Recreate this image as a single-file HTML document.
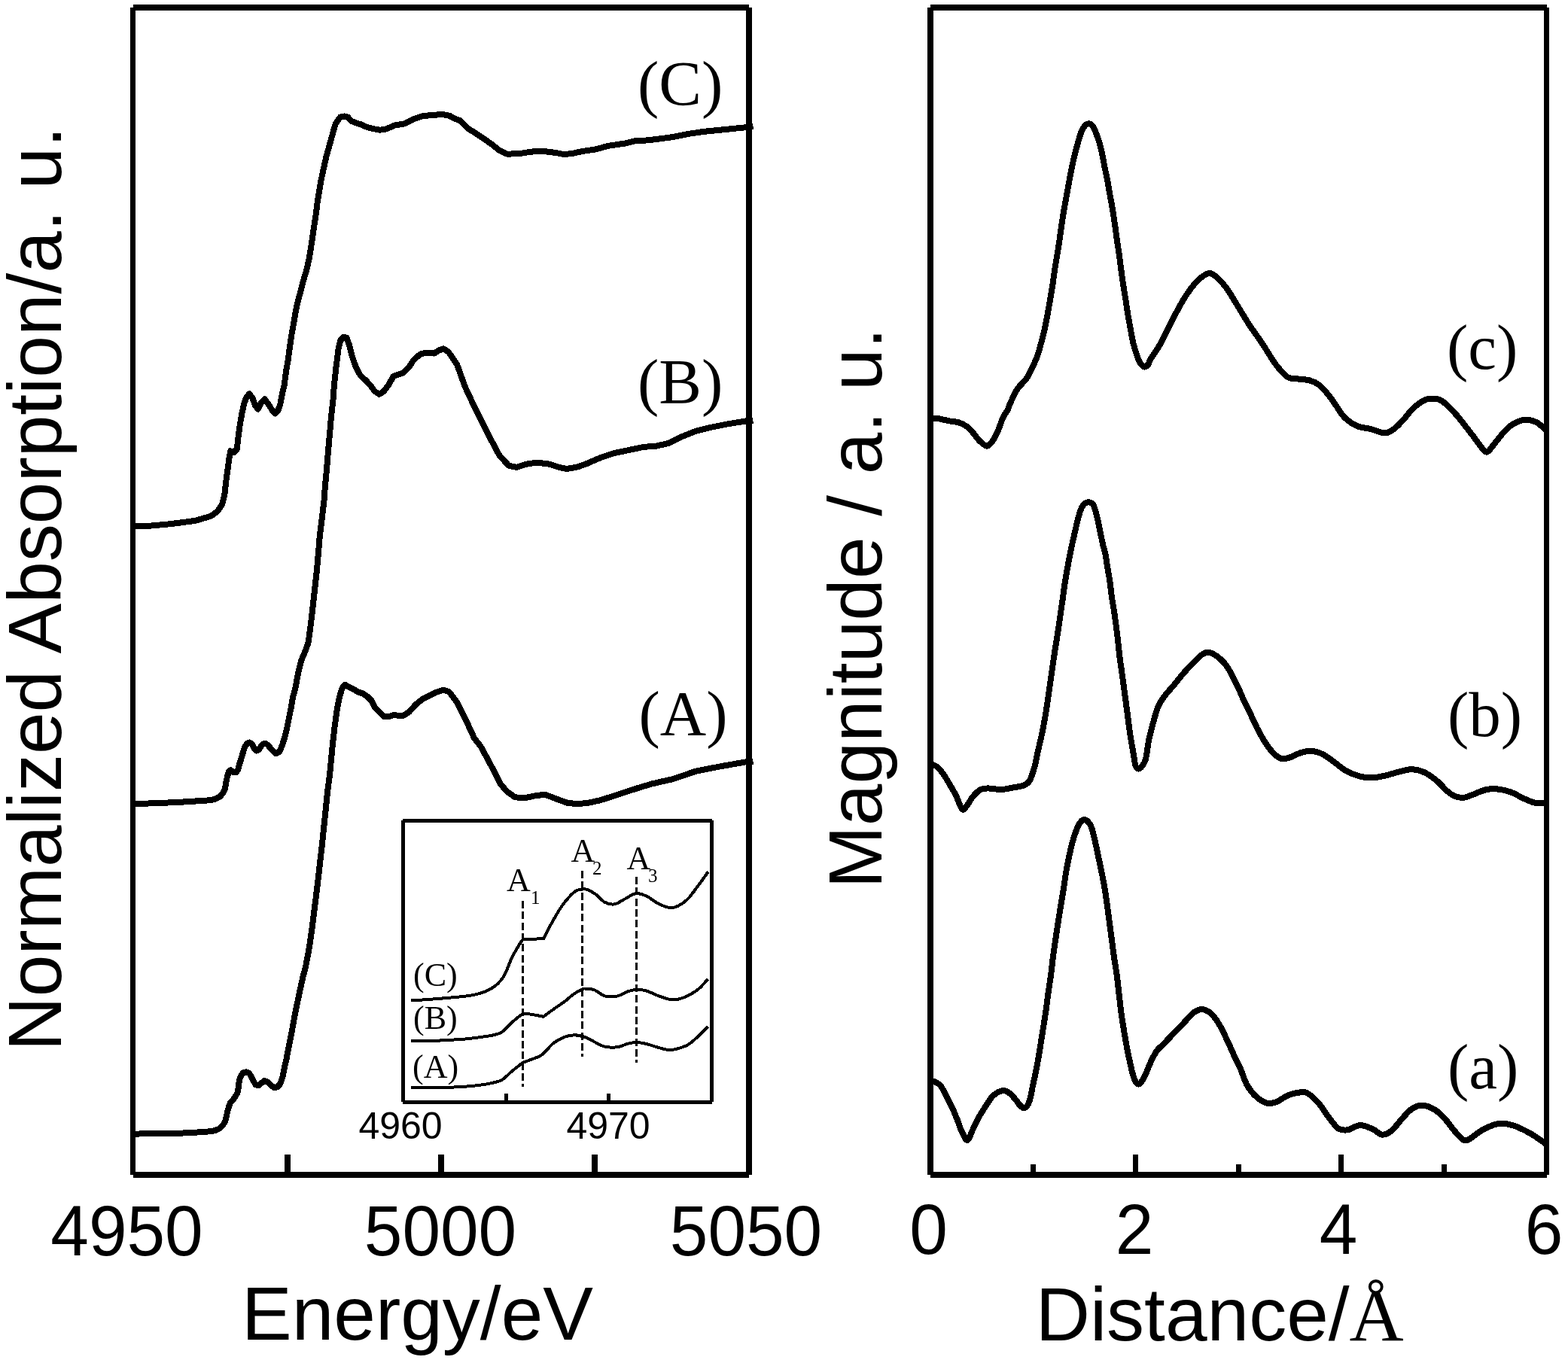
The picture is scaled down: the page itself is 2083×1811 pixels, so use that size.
<!DOCTYPE html>
<html><head><meta charset="utf-8"><title>XANES and EXAFS spectra</title>
<style>
html,body{margin:0;padding:0;background:#fff;}
body{width:2083px;height:1811px;overflow:hidden;}
svg{display:block;}
.sans{font-family:"Liberation Sans",Arial,sans-serif;}
.serif{font-family:"Liberation Serif","Times New Roman",serif;}
</style></head><body>
<svg xmlns="http://www.w3.org/2000/svg" width="2083" height="1811" viewBox="0 0 2083 1811" shape-rendering="crispEdges">
<rect x="0" y="0" width="2083" height="1811" fill="#fff"/>

<g id="left-panel">
<path d="M176.5,10 H995 M176.5,1561 H995" fill="none" stroke="#000" stroke-width="8"/><path d="M176.5,10 V1561" fill="none" stroke="#000" stroke-width="7"/><path d="M995,10 V1561" fill="none" stroke="#000" stroke-width="8"/>
<line x1="382" y1="1534" x2="382" y2="1558" stroke="#000" stroke-width="7.5"/>
<line x1="586" y1="1534" x2="586" y2="1558" stroke="#000" stroke-width="7.5"/>
<line x1="790" y1="1534" x2="790" y2="1558" stroke="#000" stroke-width="7.5"/>
<path d="M176.3,699.1 L199.2,698.7 L222.2,696.6 L238.9,694.6 L259.7,691.8 L270.1,688.7 L280.6,685.6 L288.9,679.3 L295.2,669.9 L298.3,657.4 L300.4,638.6 L303.0,620.0 L304.6,607.7 L306.2,599.3 L310.7,601.3 L315.2,596.1 L315.6,588.4 L317.2,575.6 L319.0,562.8 L321.3,549.9 L324.0,537.1 L327.5,527.5 L331.2,523.3 L335.5,529.0 L339.0,539.0 L342.8,543.5 L346.6,535.8 L351.8,530.4 L357.5,538.4 L361.5,545.0 L365.6,549.3 L369.5,545.0 L372.3,537.1 L374.7,524.3 L377.7,511.4 L380.0,493.8 L382.7,478.1 L384.8,462.5 L387.0,446.9 L389.8,431.3 L392.5,415.6 L395.5,401.0 L398.8,389.4 L402.7,373.8 L407.5,358.1 L410.9,342.5 L413.4,326.9 L415.7,311.3 L418.0,295.6 L420.0,283.0 L421.5,270.0 L424.0,254.4 L426.7,238.8 L430.1,223.1 L433.6,207.5 L438.0,191.9 L442.3,176.3 L445.7,164.5 L452.0,155.5 L457.4,154.5 L462.0,155.5 L466.4,160.6 L472.7,163.4 L479.7,165.3 L485.9,168.4 L496.1,171.2 L504.7,172.7 L512.2,171.7 L524.7,166.5 L537.2,164.4 L549.7,158.2 L562.2,154.0 L574.8,153.0 L587.3,151.9 L597.7,154.0 L603.0,157.1 L611.3,160.3 L621.7,170.7 L630.1,175.9 L642.6,184.2 L653.0,191.5 L663.5,199.9 L673.9,204.7 L690.6,204.1 L705.2,201.6 L721.9,200.9 L738.6,203.0 L749.0,205.1 L759.4,204.1 L774.0,200.9 L788.6,198.9 L809.5,193.6 L830.4,190.5 L842.9,187.4 L861.7,186.3 L893.0,182.2 L913.8,178.0 L934.7,174.9 L955.5,172.8 L976.4,170.7 L991.0,169.2 L1000.5,168.0" fill="none" stroke="#000" stroke-width="8.0" stroke-linejoin="round" stroke-linecap="butt"/>
<path d="M176.3,1068.0 L201.3,1067.4 L228.4,1066.3 L249.3,1065.2 L263.9,1064.2 L276.4,1063.4 L280.0,1063.1 L286.1,1061.7 L292.3,1058.3 L296.6,1053.4 L299.0,1047.9 L300.3,1039.9 L302.1,1031.3 L304.2,1024.5 L306.4,1023.3 L309.5,1025.8 L313.8,1026.4 L316.2,1022.7 L318.1,1015.3 L320.5,1008.0 L323.0,999.4 L325.4,992.0 L328.5,987.7 L331.6,986.5 L334.6,988.3 L337.7,994.5 L340.8,997.5 L343.8,996.3 L346.9,991.4 L350.0,988.3 L352.4,987.7 L355.5,989.6 L358.6,993.2 L362.3,997.5 L366.3,1001.1 L369.5,1000.0 L372.0,997.5 L374.8,990.4 L378.0,980.4 L381.3,967.0 L384.0,953.6 L386.7,940.2 L389.0,926.8 L392.7,912.8 L394.8,901.1 L397.2,889.4 L400.2,877.7 L405.2,865.9 L409.5,854.2 L411.1,842.5 L413.2,826.9 L415.0,811.3 L416.7,795.6 L418.2,782.2 L420.8,758.8 L422.9,735.3 L424.8,711.9 L427.8,688.4 L430.5,665.0 L431.8,647.2 L434.0,623.8 L435.9,600.3 L438.0,576.9 L440.0,553.4 L442.6,530.0 L443.9,512.0 L446.4,488.6 L448.0,476.0 L449.7,462.5 L452.5,452.0 L456.6,447.7 L460.4,448.6 L464.3,459.3 L468.2,474.9 L473.1,488.6 L479.0,499.3 L485.8,505.2 L492.0,512.0 L497.6,519.7 L503.8,523.9 L510.1,519.7 L516.3,511.4 L522.6,499.9 L528.9,497.8 L535.1,495.7 L543.5,487.4 L549.7,478.0 L558.1,470.7 L566.4,468.6 L576.8,469.6 L583.1,465.5 L589.4,463.4 L596.0,468.0 L607.1,484.2 L617.6,513.5 L632.2,544.8 L646.8,574.0 L663.5,605.3 L676.0,618.8 L686.4,620.9 L698.9,616.7 L713.5,614.6 L730.2,616.7 L742.7,620.9 L753.2,623.0 L767.8,620.3 L780.3,615.7 L797.0,608.4 L815.8,602.1 L840.8,596.9 L855.4,593.8 L872.1,592.7 L888.8,588.6 L905.5,580.2 L924.2,572.9 L945.1,567.7 L966.0,563.5 L991.0,559.4 L1000.5,559.3" fill="none" stroke="#000" stroke-width="8.0" stroke-linejoin="round" stroke-linecap="butt"/>
<path d="M177.6,1506.6 L219.2,1506.1 L251.4,1505.3 L266.5,1504.2 L280.0,1503.2 L286.1,1501.9 L291.0,1499.8 L296.0,1495.2 L299.0,1490.3 L300.6,1484.1 L302.1,1477.4 L303.9,1470.6 L305.8,1465.7 L309.4,1461.4 L312.5,1457.1 L315.3,1452.2 L316.5,1446.7 L317.1,1440.6 L318.3,1433.8 L320.5,1428.9 L322.9,1425.2 L327.2,1424.3 L330.9,1425.9 L333.4,1429.5 L336.4,1435.7 L339.5,1441.2 L343.2,1442.4 L346.9,1439.4 L351.2,1436.0 L355.5,1437.5 L359.8,1441.8 L364.7,1445.5 L368.3,1444.3 L371.4,1441.2 L373.9,1435.7 L375.7,1429.5 L378.1,1417.2 L380.6,1406.8 L383.0,1393.8 L387.7,1370.3 L392.0,1346.9 L396.9,1323.4 L402.0,1300.0 L406.5,1282.2 L410.9,1258.8 L414.3,1235.3 L417.2,1211.9 L420.2,1188.4 L423.0,1165.0 L425.0,1147.2 L427.7,1123.8 L430.1,1100.3 L432.6,1076.9 L434.9,1053.4 L438.0,1030.0 L439.7,1012.2 L441.9,988.8 L444.6,965.3 L447.9,941.9 L451.0,926.3 L454.4,914.5 L458.3,909.8 L463.8,913.0 L470.0,916.1 L476.3,919.6 L482.5,921.6 L488.0,925.5 L493.4,930.9 L497.3,938.8 L501.7,943.9 L510.1,952.2 L516.3,952.2 L522.6,950.1 L535.1,951.2 L543.5,945.9 L551.8,936.6 L562.2,928.2 L568.5,925.1 L578.9,919.9 L589.4,916.7 L596.5,919.2 L607.1,933.0 L619.6,958.1 L630.1,981.0 L638.4,991.4 L650.9,1014.4 L665.5,1042.6 L673.9,1052.0 L684.3,1059.3 L696.8,1060.3 L711.4,1057.2 L724.0,1055.7 L738.6,1061.3 L753.2,1066.6 L765.7,1068.2 L780.3,1067.0 L797.0,1063.4 L819.9,1056.1 L845.0,1047.8 L865.8,1041.5 L893.0,1035.3 L924.2,1024.8 L955.5,1018.6 L991.0,1012.3 L1000.5,1011.8" fill="none" stroke="#000" stroke-width="8.0" stroke-linejoin="round" stroke-linecap="butt"/>
</g>
<g id="inset">
<rect x="535.3" y="1090.4" width="410.3" height="373.9" fill="#fff"/>
<path d="M535.3,1090.4 H945.6 M535.3,1464.3 H945.6 M535.3,1090.4 V1464.3 M945.6,1090.4 V1464.3" fill="none" stroke="#000" stroke-width="5"/>
<line x1="672.3" y1="1453" x2="672.3" y2="1463" stroke="#000" stroke-width="4.6"/>
<line x1="808.4" y1="1453" x2="808.4" y2="1463" stroke="#000" stroke-width="4.6"/>
<line x1="694.5" y1="1197" x2="694.5" y2="1444" stroke="#000" stroke-width="3.3" stroke-dasharray="10 4.3"/>
<line x1="773.5" y1="1157" x2="773.5" y2="1404" stroke="#000" stroke-width="3.3" stroke-dasharray="10 4.3"/>
<line x1="845.5" y1="1165" x2="845.5" y2="1412" stroke="#000" stroke-width="3.3" stroke-dasharray="10 4.3"/>
<path d="M546.0,1329.5 C553.3,1329.0 576.0,1327.6 590.0,1326.3 C604.0,1325.0 619.5,1324.0 630.0,1321.8 C640.5,1319.6 646.8,1317.0 653.2,1313.1 C659.6,1309.2 664.1,1305.1 668.6,1298.3 C673.1,1291.5 676.4,1279.7 680.2,1272.0 C684.1,1264.3 689.1,1256.2 691.7,1252.1 C694.3,1248.0 695.0,1248.3 695.6,1247.6 C696.2,1247.7 694.9,1248.3 699.4,1248.2 C703.9,1248.1 718.6,1247.2 722.5,1247.0 C723.4,1245.2 725.6,1240.3 727.7,1236.1 C729.9,1231.9 732.0,1227.7 735.4,1221.9 C738.8,1216.1 743.5,1207.6 748.2,1201.4 C752.9,1195.2 759.3,1188.0 763.6,1184.7 C767.9,1181.4 771.1,1181.9 773.9,1181.5 C776.7,1181.1 777.3,1180.9 780.3,1182.1 C783.3,1183.3 788.0,1185.8 791.9,1188.6 C795.8,1191.4 799.3,1196.7 803.4,1198.8 C807.5,1200.9 812.0,1202.0 816.3,1201.4 C820.6,1200.8 824.4,1197.3 829.1,1195.0 C833.8,1192.7 839.6,1188.0 844.5,1187.3 C849.4,1186.5 854.1,1188.6 858.6,1190.5 C863.1,1192.4 867.0,1196.3 871.5,1198.8 C876.0,1201.2 881.3,1204.1 885.6,1205.2 C889.9,1206.3 892.6,1206.8 897.1,1205.2 C901.6,1203.6 907.8,1199.9 912.5,1195.6 C917.2,1191.3 920.7,1185.8 925.4,1179.6 C930.1,1173.4 938.2,1161.9 940.8,1158.4" fill="none" stroke="#000" stroke-width="4.0" stroke-linejoin="round"/>
<path d="M546.2,1383.5 C550.0,1383.5 560.3,1383.5 569.1,1383.2 C577.9,1382.9 590.8,1382.2 599.2,1381.7 C607.6,1381.2 612.2,1381.1 619.3,1380.4 C626.4,1379.7 635.6,1378.4 641.6,1377.6 C647.6,1376.8 650.7,1376.5 655.0,1375.4 C659.3,1374.3 662.8,1374.0 667.3,1370.9 C671.8,1367.8 677.5,1360.8 681.8,1357.0 C686.1,1353.2 690.5,1349.7 692.9,1348.0 C695.3,1346.3 695.7,1347.1 696.3,1346.9 C697.6,1347.0 699.8,1346.8 704.1,1347.5 C708.4,1348.2 719.0,1350.2 722.0,1350.8 C724.4,1349.0 731.6,1343.6 736.4,1340.2 C741.2,1336.8 746.3,1333.5 750.6,1330.3 C754.9,1327.0 758.6,1323.3 762.3,1320.7 C766.0,1318.1 770.4,1316.1 772.9,1314.9 C775.4,1313.7 774.3,1313.4 777.1,1313.5 C779.9,1313.6 785.4,1313.8 789.8,1315.4 C794.2,1317.1 798.6,1322.0 803.6,1323.4 C808.6,1324.8 814.5,1324.7 819.5,1323.7 C824.5,1322.7 829.0,1319.1 833.3,1317.6 C837.5,1316.1 840.8,1315.1 845.0,1314.9 C849.2,1314.7 854.1,1315.3 858.7,1316.5 C863.3,1317.7 867.5,1320.5 872.5,1322.3 C877.5,1324.1 883.6,1326.7 888.4,1327.6 C893.2,1328.5 896.9,1328.4 901.1,1327.6 C905.4,1326.8 909.5,1325.1 913.9,1322.9 C918.3,1320.7 923.2,1318.0 927.6,1314.4 C932.0,1310.8 938.3,1303.3 940.4,1301.1" fill="none" stroke="#000" stroke-width="4.0" stroke-linejoin="round"/>
<path d="M546.2,1445.3 C552.8,1445.3 574.0,1445.3 585.8,1445.1 C597.6,1444.8 607.7,1444.4 617.0,1443.8 C626.3,1443.2 635.1,1442.1 641.6,1441.2 C648.1,1440.3 651.8,1439.5 656.1,1438.4 C660.4,1437.3 663.2,1437.1 667.3,1434.5 C671.4,1431.9 676.2,1426.5 680.7,1422.8 C685.2,1419.1 691.8,1414.0 694.0,1412.2 C695.7,1411.5 699.8,1410.1 704.1,1408.3 C708.4,1406.5 714.5,1405.3 719.7,1401.6 C724.9,1397.9 730.3,1389.9 735.3,1386.0 C740.3,1382.1 744.8,1379.8 749.5,1378.0 C754.2,1376.2 758.7,1375.3 763.3,1375.3 C767.9,1375.3 772.7,1376.5 777.1,1378.0 C781.5,1379.5 785.4,1382.3 789.8,1384.4 C794.2,1386.5 798.5,1389.6 803.6,1390.7 C808.7,1391.8 815.7,1391.8 820.6,1391.2 C825.5,1390.6 829.2,1388.0 833.3,1387.0 C837.4,1386.0 840.8,1384.9 845.0,1384.9 C849.2,1384.9 854.1,1386.0 858.7,1387.0 C863.3,1388.0 867.7,1389.9 872.5,1391.2 C877.3,1392.5 883.1,1394.5 887.4,1395.0 C891.6,1395.5 893.6,1395.1 898.0,1393.9 C902.4,1392.8 909.0,1390.9 913.9,1388.1 C918.8,1385.3 923.2,1380.9 927.6,1376.9 C932.0,1372.9 938.3,1366.3 940.4,1364.2" fill="none" stroke="#000" stroke-width="4.0" stroke-linejoin="round"/>
<g class="serif" font-size="44" fill="#000">
<text x="549" y="1310">(C)</text>
<text x="549" y="1367">(B)</text>
<text x="548" y="1432">(A)</text>
<text x="673" y="1184">A</text><text x="705" y="1201" font-size="25">1</text>
<text x="758.5" y="1145">A</text><text x="787" y="1162" font-size="25">2</text>
<text x="832.5" y="1155">A</text><text x="861" y="1172" font-size="25">3</text>
</g>
<g class="sans" font-size="50" fill="#000">
<text x="532" y="1513" text-anchor="middle">4960</text>
<text x="808" y="1513" text-anchor="middle">4970</text>
</g>
</g>
<g id="right-panel">
<path d="M1236,10 H2054.5 M1236,1561 H2054.5" fill="none" stroke="#000" stroke-width="8"/><path d="M1236,10 V1561" fill="none" stroke="#000" stroke-width="8"/><path d="M2054.5,10 V1561" fill="none" stroke="#000" stroke-width="7"/>
<line x1="1372.4" y1="1547" x2="1372.4" y2="1558" stroke="#000" stroke-width="7"/>
<line x1="1508.8" y1="1534" x2="1508.8" y2="1558" stroke="#000" stroke-width="7"/>
<line x1="1645.2" y1="1547" x2="1645.2" y2="1558" stroke="#000" stroke-width="7"/>
<line x1="1781.6" y1="1534" x2="1781.6" y2="1558" stroke="#000" stroke-width="7"/>
<line x1="1918.0" y1="1547" x2="1918.0" y2="1558" stroke="#000" stroke-width="7"/>
<path d="M1236.3,555.2 C1238.0,555.4 1242.5,555.5 1246.7,556.2 C1250.9,556.9 1256.8,558.5 1261.3,559.4 C1265.8,560.3 1270.0,560.2 1273.8,561.4 C1277.6,562.6 1281.1,564.4 1284.2,566.7 C1287.3,569.0 1289.8,571.9 1292.6,575.0 C1295.4,578.1 1297.8,582.4 1300.9,585.4 C1304.0,588.4 1308.3,592.9 1311.4,592.7 C1314.5,592.5 1317.3,587.9 1319.7,584.4 C1322.1,580.9 1323.9,576.8 1326.0,571.9 C1328.1,567.0 1330.1,559.7 1332.2,555.2 C1334.3,550.7 1336.8,548.3 1338.5,544.8 C1340.2,541.3 1340.6,538.8 1342.7,534.3 C1344.8,529.8 1348.9,521.2 1351.0,517.6 C1353.1,514.0 1353.1,514.8 1355.2,512.4 C1357.3,510.0 1361.1,506.4 1363.5,503.0 C1365.9,499.6 1367.1,497.1 1369.5,492.2 C1371.9,487.3 1375.5,479.8 1377.8,473.7 C1380.1,467.6 1381.5,461.4 1383.2,455.3 C1384.9,449.2 1386.4,443.0 1387.8,436.9 C1389.2,430.8 1390.3,424.8 1391.5,418.4 C1392.7,412.0 1393.8,405.2 1395.0,398.5 C1396.2,391.8 1397.4,384.8 1398.4,378.2 C1399.4,371.6 1400.1,365.3 1401.1,358.8 C1402.1,352.3 1403.2,346.0 1404.3,339.4 C1405.4,332.8 1406.5,325.9 1407.5,319.0 C1408.5,312.1 1409.4,304.9 1410.4,298.2 C1411.4,291.5 1412.4,285.3 1413.5,278.8 C1414.6,272.3 1415.8,266.0 1417.0,259.4 C1418.2,252.8 1419.5,245.2 1420.7,239.0 C1421.9,232.8 1422.9,227.5 1424.0,222.1 C1425.1,216.7 1426.2,211.8 1427.5,206.6 C1428.8,201.4 1430.1,196.3 1431.6,191.1 C1433.1,185.9 1434.8,179.5 1436.4,175.5 C1438.0,171.5 1439.4,169.2 1441.0,167.3 C1442.6,165.4 1444.3,164.4 1446.0,164.3 C1447.7,164.2 1449.4,164.9 1451.0,166.8 C1452.6,168.7 1453.8,171.4 1455.5,175.5 C1457.2,179.6 1459.4,185.9 1460.9,191.1 C1462.4,196.3 1463.5,201.4 1464.6,206.6 C1465.7,211.8 1466.4,216.7 1467.5,222.1 C1468.6,227.5 1469.8,232.8 1471.0,239.0 C1472.2,245.2 1473.4,252.8 1474.6,259.4 C1475.8,266.0 1477.0,272.3 1478.1,278.8 C1479.2,285.3 1480.0,291.6 1481.0,298.2 C1482.0,304.8 1482.8,311.6 1483.8,318.5 C1484.8,325.4 1486.0,332.7 1486.9,339.4 C1487.8,346.1 1488.5,352.3 1489.4,358.8 C1490.3,365.3 1491.1,371.6 1492.1,378.2 C1493.1,384.8 1494.4,391.8 1495.4,398.5 C1496.5,405.2 1497.3,412.0 1498.4,418.4 C1499.5,424.8 1500.7,430.8 1501.8,436.9 C1502.9,443.0 1503.8,449.2 1505.3,455.3 C1506.8,461.4 1509.1,469.1 1510.8,473.7 C1512.5,478.3 1513.6,480.7 1515.2,483.0 C1516.8,485.3 1518.8,487.4 1520.5,487.6 C1522.2,487.8 1524.2,485.6 1525.5,484.0 C1526.8,482.4 1525.2,482.7 1528.0,478.0 C1530.8,473.3 1537.0,465.0 1542.0,456.0 C1547.0,447.0 1552.7,434.2 1558.0,424.0 C1563.3,413.8 1569.0,403.0 1574.0,395.0 C1579.0,387.0 1583.4,381.1 1588.0,376.0 C1592.6,370.9 1597.8,366.8 1601.4,364.7 C1605.0,362.6 1606.6,362.5 1609.7,363.7 C1612.8,364.9 1616.7,368.5 1620.2,372.0 C1623.7,375.5 1627.1,379.6 1630.6,384.5 C1634.1,389.4 1637.7,395.8 1641.0,401.2 C1644.3,406.6 1647.1,411.4 1650.4,416.8 C1653.7,422.2 1656.7,427.2 1660.9,433.5 C1665.1,439.8 1670.6,447.1 1675.5,454.4 C1680.4,461.7 1686.3,471.6 1690.1,477.3 C1693.9,483.0 1694.9,484.8 1698.4,488.8 C1701.9,492.8 1706.7,498.9 1710.9,501.3 C1715.1,503.7 1718.6,502.7 1723.5,503.4 C1728.4,504.1 1735.2,504.1 1740.1,505.5 C1745.0,506.9 1748.5,508.5 1752.7,511.8 C1756.9,515.1 1761.4,520.6 1765.2,525.3 C1769.0,530.0 1772.1,535.0 1775.6,539.9 C1779.1,544.8 1781.5,550.1 1786.0,554.5 C1790.5,558.9 1796.8,563.4 1802.7,566.0 C1808.6,568.6 1815.2,568.6 1821.5,570.2 C1827.8,571.8 1835.1,575.6 1840.3,575.4 C1845.5,575.2 1848.6,572.2 1852.8,569.1 C1857.0,566.0 1861.5,560.8 1865.3,556.6 C1869.1,552.4 1871.6,548.1 1875.8,544.1 C1880.0,540.1 1885.9,535.0 1890.4,532.6 C1894.9,530.2 1898.7,529.5 1902.9,529.5 C1907.1,529.5 1910.5,529.5 1915.4,532.6 C1920.3,535.7 1927.6,543.6 1932.1,548.3 C1936.6,553.0 1938.3,555.6 1942.5,560.8 C1946.7,566.0 1952.6,573.7 1957.1,579.6 C1961.6,585.5 1966.5,592.8 1969.6,596.3 C1972.7,599.8 1973.5,601.3 1975.9,600.4 C1978.3,599.5 1980.7,595.2 1984.2,591.0 C1987.7,586.8 1992.6,579.9 1996.8,575.4 C2001.0,570.9 2004.4,566.8 2009.3,563.9 C2014.2,561.0 2020.8,558.2 2026.0,557.7 C2031.2,557.2 2036.6,559.1 2040.6,560.8 C2044.6,562.5 2047.7,566.2 2050.0,568.1 C2052.3,570.0 2053.8,571.4 2054.5,572.0" fill="none" stroke="#000" stroke-width="8.0" stroke-linejoin="round"/>
<path d="M1237.3,1015.6 C1238.5,1016.1 1242.0,1016.6 1244.6,1018.7 C1247.2,1020.8 1250.1,1024.3 1252.9,1028.1 C1255.7,1031.9 1258.5,1037.0 1261.3,1041.7 C1264.1,1046.4 1266.8,1050.8 1269.6,1056.3 C1272.4,1061.8 1275.6,1072.6 1278.0,1075.0 C1280.4,1077.4 1281.8,1073.7 1284.2,1070.9 C1286.6,1068.1 1289.5,1062.0 1292.6,1058.3 C1295.7,1054.6 1299.5,1050.8 1303.0,1049.0 C1306.5,1047.2 1309.0,1047.5 1313.5,1047.5 C1318.0,1047.5 1324.5,1049.2 1330.1,1049.0 C1335.6,1048.8 1341.9,1047.2 1346.8,1046.3 C1351.7,1045.4 1355.9,1045.2 1359.4,1043.7 C1362.9,1042.2 1365.1,1041.9 1367.7,1037.5 C1370.3,1033.1 1373.0,1023.6 1374.8,1017.3 C1376.6,1011.0 1376.9,1007.1 1378.5,999.8 C1380.1,992.5 1382.7,982.3 1384.5,973.6 C1386.3,964.9 1387.8,956.1 1389.3,947.4 C1390.8,938.7 1391.9,929.9 1393.2,921.2 C1394.5,912.5 1395.8,903.0 1396.9,895.0 C1398.1,887.0 1399.1,880.1 1400.1,873.2 C1401.1,866.3 1402.1,860.3 1403.1,853.8 C1404.1,847.3 1405.2,841.0 1406.2,834.4 C1407.2,827.8 1408.1,820.9 1409.1,814.0 C1410.1,807.1 1411.1,799.9 1412.1,793.2 C1413.0,786.5 1413.8,780.3 1414.8,773.8 C1415.8,767.3 1416.9,760.9 1418.1,754.4 C1419.3,747.9 1420.8,739.9 1421.8,735.0 C1422.8,730.1 1423.0,729.2 1423.9,724.9 C1424.8,720.6 1426.2,714.5 1427.4,709.3 C1428.6,704.1 1429.7,699.0 1431.0,693.8 C1432.3,688.6 1433.8,682.3 1435.3,678.3 C1436.8,674.3 1438.2,671.8 1440.0,670.0 C1441.8,668.2 1444.0,667.3 1446.0,667.3 C1448.0,667.3 1450.5,668.2 1452.0,670.0 C1453.5,671.8 1453.9,674.3 1455.1,678.3 C1456.3,682.3 1457.8,688.6 1459.0,693.8 C1460.2,699.0 1461.0,704.1 1462.1,709.3 C1463.2,714.5 1464.4,720.6 1465.4,724.9 C1466.4,729.2 1467.2,730.1 1468.2,735.0 C1469.2,739.9 1470.2,747.9 1471.3,754.4 C1472.4,760.9 1473.7,767.3 1474.6,773.8 C1475.5,780.3 1476.0,786.5 1476.9,793.2 C1477.9,799.9 1479.3,807.1 1480.3,814.0 C1481.3,820.9 1482.2,827.8 1483.1,834.4 C1483.9,841.0 1484.7,847.3 1485.4,853.8 C1486.1,860.3 1486.7,866.5 1487.5,873.2 C1488.3,879.9 1489.3,886.0 1490.4,894.0 C1491.5,902.0 1492.9,912.3 1494.1,921.2 C1495.3,930.1 1496.4,938.7 1497.6,947.4 C1498.8,956.1 1499.7,964.9 1501.0,973.6 C1502.3,982.3 1504.2,992.5 1505.4,999.8 C1506.7,1007.1 1507.3,1013.7 1508.5,1017.3 C1509.7,1020.9 1511.3,1021.5 1512.7,1021.6 C1514.1,1021.7 1515.5,1020.2 1517.0,1018.0 C1518.5,1015.8 1520.4,1014.5 1522.0,1008.5 C1523.6,1002.5 1524.6,991.0 1526.4,982.3 C1528.2,973.6 1531.1,963.3 1533.1,956.1 C1535.1,948.9 1536.2,944.2 1538.5,939.0 C1540.8,933.8 1543.6,929.6 1547.1,924.8 C1550.6,920.0 1555.4,915.2 1559.6,910.2 C1563.8,905.2 1567.7,899.8 1572.2,894.6 C1576.7,889.4 1582.6,883.1 1586.8,878.9 C1591.0,874.7 1594.1,871.5 1597.2,869.5 C1600.3,867.5 1602.4,866.4 1605.5,866.8 C1608.6,867.1 1612.5,869.2 1616.0,871.6 C1619.5,874.0 1623.3,877.4 1626.4,881.0 C1629.5,884.6 1631.7,887.9 1634.8,893.5 C1637.9,899.1 1642.1,907.8 1645.2,914.4 C1648.3,921.0 1650.9,927.6 1653.5,933.2 C1656.1,938.8 1657.9,942.0 1660.9,948.1 C1663.9,954.2 1667.8,963.4 1671.3,970.0 C1674.8,976.6 1678.2,982.6 1681.7,987.8 C1685.2,993.0 1688.7,997.9 1692.2,1001.3 C1695.7,1004.7 1699.1,1007.3 1702.6,1008.2 C1706.1,1009.1 1708.8,1007.9 1713.0,1006.6 C1717.2,1005.3 1722.7,1001.8 1727.6,1000.3 C1732.5,998.8 1737.3,997.5 1742.2,997.8 C1747.1,998.1 1751.9,999.7 1756.8,1002.0 C1761.7,1004.3 1766.2,1008.1 1771.4,1011.8 C1776.6,1015.5 1782.2,1021.0 1788.1,1024.3 C1794.0,1027.6 1801.0,1030.1 1806.9,1031.6 C1812.8,1033.1 1818.0,1033.5 1823.6,1033.3 C1829.2,1033.1 1834.4,1031.8 1840.3,1030.5 C1846.2,1029.2 1853.2,1026.7 1859.1,1025.3 C1865.0,1023.9 1870.2,1022.0 1875.8,1022.2 C1881.4,1022.4 1887.0,1023.8 1892.5,1026.4 C1898.0,1029.0 1904.2,1033.8 1909.1,1037.8 C1914.0,1041.8 1917.9,1047.1 1921.7,1050.4 C1925.5,1053.7 1928.3,1056.1 1932.1,1057.7 C1935.9,1059.3 1940.4,1060.2 1944.6,1059.8 C1948.8,1059.4 1952.2,1057.3 1957.1,1055.6 C1962.0,1053.8 1968.6,1050.5 1973.8,1049.3 C1979.0,1048.1 1982.8,1047.8 1988.4,1048.3 C1994.0,1048.8 2001.6,1050.6 2007.2,1052.5 C2012.8,1054.4 2016.6,1057.5 2021.8,1059.8 C2027.0,1062.1 2033.6,1065.4 2038.5,1066.6 C2043.4,1067.8 2048.3,1067.0 2051.0,1067.1 C2053.7,1067.2 2053.9,1067.2 2054.5,1067.2" fill="none" stroke="#000" stroke-width="8.0" stroke-linejoin="round"/>
<path d="M1237.3,1435.5 C1239.2,1436.5 1245.5,1438.3 1248.8,1441.8 C1252.1,1445.3 1254.3,1451.2 1257.1,1456.4 C1259.9,1461.6 1263.1,1467.9 1265.5,1473.1 C1267.9,1478.3 1269.6,1482.5 1271.7,1487.7 C1273.8,1492.9 1275.7,1499.9 1278.0,1504.4 C1280.3,1508.9 1282.9,1515.5 1285.3,1514.8 C1287.7,1514.1 1290.0,1505.4 1292.6,1500.2 C1295.2,1495.0 1297.8,1489.1 1300.9,1483.5 C1304.0,1477.9 1308.3,1471.5 1311.4,1466.8 C1314.5,1462.1 1316.2,1458.4 1319.7,1455.4 C1323.2,1452.5 1328.7,1449.6 1332.2,1449.1 C1335.7,1448.6 1337.8,1450.3 1340.6,1452.2 C1343.4,1454.1 1346.5,1457.8 1348.9,1460.6 C1351.3,1463.4 1353.1,1467.0 1355.2,1468.9 C1357.3,1470.8 1359.3,1473.1 1361.4,1472.1 C1363.5,1471.1 1366.0,1467.5 1367.7,1462.7 C1369.4,1457.9 1370.5,1449.6 1371.8,1443.5 C1373.1,1437.4 1374.2,1433.3 1375.7,1426.0 C1377.2,1418.7 1379.0,1408.5 1380.5,1399.8 C1382.0,1391.1 1383.2,1382.3 1384.6,1373.6 C1386.0,1364.9 1387.5,1356.1 1388.8,1347.4 C1390.1,1338.7 1391.1,1329.8 1392.3,1321.2 C1393.5,1312.6 1394.9,1304.0 1396.0,1296.0 C1397.1,1288.0 1397.7,1280.9 1398.7,1273.2 C1399.7,1265.5 1400.9,1257.7 1402.0,1249.9 C1403.1,1242.1 1404.3,1234.4 1405.5,1226.6 C1406.7,1218.8 1407.9,1211.3 1409.2,1203.3 C1410.5,1195.3 1412.1,1186.1 1413.3,1178.5 C1414.5,1170.9 1415.2,1164.3 1416.4,1157.6 C1417.6,1150.9 1418.8,1144.7 1420.2,1138.2 C1421.6,1131.7 1422.9,1125.3 1424.7,1118.8 C1426.5,1112.3 1429.4,1104.0 1431.3,1099.4 C1433.2,1094.9 1434.5,1093.2 1436.0,1091.5 C1437.5,1089.8 1438.8,1089.0 1440.3,1089.0 C1441.8,1089.0 1443.4,1089.8 1445.0,1091.5 C1446.6,1093.2 1448.3,1094.9 1450.0,1099.4 C1451.7,1104.0 1453.5,1112.3 1455.0,1118.8 C1456.5,1125.3 1457.7,1131.7 1459.1,1138.2 C1460.5,1144.7 1461.8,1150.9 1463.2,1157.6 C1464.6,1164.3 1465.9,1170.9 1467.2,1178.5 C1468.5,1186.1 1469.8,1195.3 1470.9,1203.3 C1472.0,1211.3 1473.0,1218.8 1474.0,1226.6 C1475.0,1234.4 1476.1,1242.1 1477.1,1249.9 C1478.1,1257.7 1479.1,1265.5 1480.2,1273.2 C1481.3,1280.9 1482.6,1288.0 1483.7,1296.0 C1484.8,1304.0 1485.6,1312.6 1486.6,1321.2 C1487.6,1329.8 1488.5,1338.7 1489.7,1347.4 C1490.9,1356.1 1492.3,1364.9 1493.8,1373.6 C1495.3,1382.3 1496.8,1391.1 1498.6,1399.8 C1500.4,1408.5 1502.9,1420.0 1504.5,1426.0 C1506.1,1432.0 1506.7,1433.6 1508.0,1436.0 C1509.3,1438.4 1510.9,1440.5 1512.4,1440.6 C1513.9,1440.7 1515.3,1438.9 1517.0,1436.5 C1518.7,1434.1 1520.2,1430.7 1522.4,1426.0 C1524.6,1421.3 1527.4,1413.6 1529.9,1408.5 C1532.4,1403.4 1534.8,1398.8 1537.3,1395.4 C1539.8,1392.0 1541.6,1391.5 1545.0,1388.0 C1548.4,1384.5 1553.8,1378.6 1557.6,1374.6 C1561.4,1370.6 1564.2,1368.2 1568.0,1364.2 C1571.8,1360.2 1577.0,1354.1 1580.5,1350.6 C1584.0,1347.1 1585.9,1344.9 1588.9,1343.3 C1591.9,1341.7 1594.8,1340.5 1598.3,1341.2 C1601.8,1341.9 1606.0,1343.9 1609.7,1347.4 C1613.4,1350.9 1616.7,1356.2 1620.2,1362.1 C1623.7,1368.0 1627.1,1375.7 1630.6,1383.0 C1634.1,1390.3 1638.0,1399.6 1641.0,1405.9 C1644.0,1412.2 1645.7,1415.0 1648.3,1421.0 C1650.9,1427.0 1653.2,1435.8 1656.7,1441.9 C1660.2,1448.0 1664.7,1453.5 1669.2,1457.5 C1673.7,1461.5 1679.3,1464.9 1683.8,1465.9 C1688.3,1467.0 1691.8,1465.5 1696.3,1463.8 C1700.8,1462.0 1705.7,1457.5 1710.9,1455.4 C1716.1,1453.3 1723.1,1451.7 1727.6,1451.3 C1732.1,1450.9 1733.9,1450.7 1738.1,1453.3 C1742.3,1455.9 1748.2,1461.7 1752.7,1466.9 C1757.2,1472.1 1761.0,1479.2 1765.2,1484.6 C1769.4,1490.0 1773.5,1496.4 1777.7,1499.2 C1781.9,1502.0 1785.3,1502.0 1790.2,1501.3 C1795.1,1500.6 1801.3,1495.3 1806.9,1495.1 C1812.5,1494.9 1818.7,1498.2 1823.6,1500.3 C1828.5,1502.4 1831.9,1507.2 1836.1,1507.6 C1840.3,1507.9 1844.1,1506.1 1848.6,1502.4 C1853.1,1498.8 1858.7,1490.6 1863.2,1485.7 C1867.7,1480.8 1871.3,1476.1 1875.8,1473.2 C1880.3,1470.3 1885.2,1468.2 1890.4,1468.6 C1895.6,1468.9 1902.2,1472.3 1907.1,1475.3 C1912.0,1478.3 1915.4,1482.2 1919.6,1486.7 C1923.8,1491.2 1927.9,1497.7 1932.1,1502.4 C1936.3,1507.1 1941.1,1513.2 1944.6,1514.9 C1948.1,1516.6 1948.8,1515.1 1953.0,1512.8 C1957.2,1510.5 1963.3,1504.6 1969.6,1501.3 C1975.8,1498.0 1983.9,1494.0 1990.5,1493.0 C1997.1,1492.0 2002.3,1493.0 2009.3,1495.1 C2016.2,1497.2 2025.2,1501.7 2032.2,1505.5 C2039.2,1509.3 2047.3,1515.5 2051.0,1518.0 C2054.7,1520.5 2053.9,1520.0 2054.5,1520.4" fill="none" stroke="#000" stroke-width="8.0" stroke-linejoin="round"/>
</g>
<g class="serif" font-size="85" fill="#000">
<text x="847" y="140">(C)</text>
<text x="847" y="536">(B)</text>
<text x="848.5" y="977.4">(A)</text>
<text x="1922" y="490.4">(c)</text>
<text x="1923" y="978.3">(b)</text>
<text x="1923" y="1446">(a)</text>
</g>
<g class="sans" font-size="91" fill="#000" text-anchor="middle">
<text transform="translate(168.5,1668.3) scale(1,1.046)">4950</text>
<text transform="translate(585,1668.3) scale(1,1.046)">5000</text>
<text transform="translate(991,1668.3) scale(1,1.046)">5050</text>
<text transform="translate(1233.5,1666.3) scale(1,1.046)">0</text>
<text transform="translate(1507,1666.3) scale(1,1.046)">2</text>
<text transform="translate(1778,1666.3) scale(1,1.046)">4</text>
<text transform="translate(2051,1666.3) scale(1,1.046)">6</text>
</g>
<g class="sans" font-size="100" fill="#000">
<text x="321" y="1780">Energy/eV</text>
<text x="1375.7" y="1781">Distance/<tspan class="serif">Å</tspan></text>
<text transform="translate(81,1396.5) rotate(-90)">Normalized Absorption/a. u.</text>
<text transform="translate(1171,1180.5) rotate(-90)">Magnitude / a. u.</text>
</g>
</svg>
</body></html>
